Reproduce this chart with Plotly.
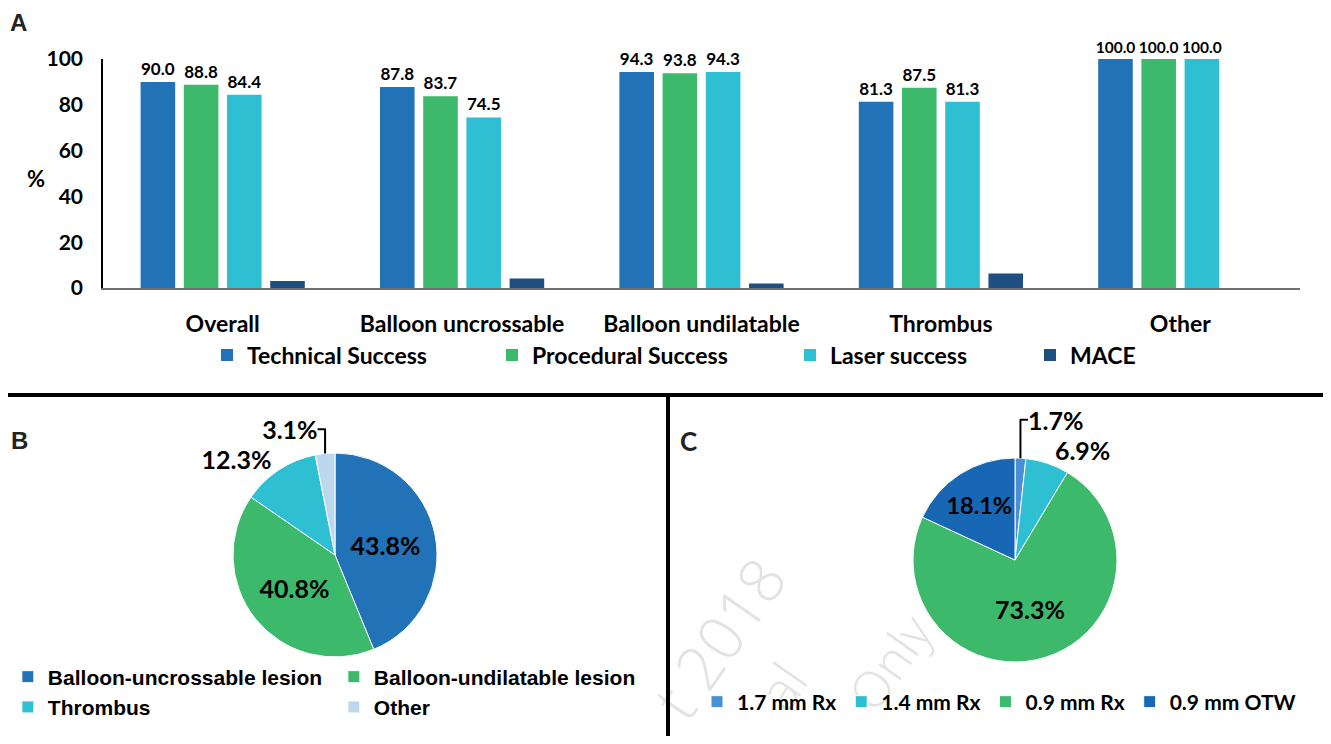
import plotly.graph_objects as go

# ---------------- data ----------------
categories = ["Overall", "Balloon uncrossable", "Balloon undilatable", "Thrombus", "Other"]
technical_success = [90.0, 87.8, 94.3, 81.3, 100.0]
procedural_success = [88.8, 83.7, 93.8, 87.5, 100.0]
laser_success = [84.4, 74.5, 94.3, 81.3, 100.0]
mace = [3.1, 4.1, 2.0, 6.3, 0.0]
y_ticks = [0, 20, 40, 60, 80, 100]

lesion_labels = ["Balloon-uncrossable lesion", "Balloon-undilatable lesion", "Thrombus", "Other"]
lesion_pct = [43.8, 40.8, 12.3, 3.1]

catheter_labels = ["1.7 mm Rx", "1.4 mm Rx", "0.9 mm Rx", "0.9 mm OTW"]
catheter_pct = [1.7, 6.9, 73.3, 18.1]

# ---------------- styling ----------------
PAGE_W, PAGE_H, BODY = 1331, 744, 8     # browser body margin of 8px
W, H = PAGE_W - 2 * BODY, PAGE_H - 2 * BODY
CAL = "Lato, Carlito, Calibri, sans-serif"
ARI = "Liberation Sans, Arial, sans-serif"
C_TECH, C_PROC, C_LASER, C_MACE = "#2272b8", "#3cb96b", "#2fbfd2", "#1f4e80"


def fx(px):
    """page pixel x -> paper fraction"""
    return (px - BODY) / W


def fy(py):
    """page pixel y (from top) -> paper fraction"""
    return 1 - (py - BODY) / H


fig = go.Figure()

series = [
    ("Technical Success", technical_success, C_TECH, True, "legend"),
    ("Procedural Success", procedural_success, C_PROC, True, "legend2"),
    ("Laser success", laser_success, C_LASER, True, "legend3"),
    ("MACE", mace, C_MACE, False, "legend4"),
]
for name, vals, color, labelled, lg in series:
    fig.add_trace(go.Bar(
        x=categories, y=vals, name=name,
        marker=dict(color=color, line=dict(width=0)),
        text=[f"{v:.1f}" for v in vals] if labelled else None,
        textposition="outside", constraintext="none", cliponaxis=False,
        textfont=dict(family=CAL, size=[15.5 if v >= 100 else 17 for v in vals],
                      color="black", weight="bold"),
        legend=lg,
    ))

PIE_R = 102
# Pie B
fig.add_trace(go.Pie(
    labels=lesion_labels, values=lesion_pct, sort=False, direction="clockwise", rotation=0,
    marker=dict(colors=[C_TECH, C_PROC, C_LASER, "#bcd7ee"], line=dict(color="white", width=1)),
    texttemplate="%{value:.1f}%", textposition=["inside", "inside", "outside", "outside"],
    insidetextorientation="horizontal",
    textfont=dict(family=CAL, size=25, color="black", weight="bold"),
    domain=dict(x=[fx(335 - PIE_R), fx(335 + PIE_R)], y=[fy(555 + PIE_R), fy(555 - PIE_R)]),
    legend="legend5",
))

# Pie C
fig.add_trace(go.Pie(
    labels=catheter_labels, values=catheter_pct, sort=False, direction="clockwise", rotation=0,
    marker=dict(colors=["#4a8fd4", C_LASER, C_PROC, "#1767b5"], line=dict(color="white", width=1)),
    texttemplate="%{value:.1f}%", textposition=["outside", "outside", "inside", "inside"],
    insidetextorientation="horizontal",
    textfont=dict(family=CAL, size=25, color="black", weight="bold"),
    domain=dict(x=[fx(1015 - PIE_R), fx(1015 + PIE_R)], y=[fy(560 + PIE_R), fy(560 - PIE_R)]),
    legend="legend6",
))

legend_common = dict(orientation="h", xanchor="left", yanchor="middle", bgcolor="rgba(0,0,0,0)",
                     itemclick=False, itemdoubleclick=False)
bar_legends = {}
for lg, xm in zip(["legend", "legend2", "legend3", "legend4"], [228, 513, 811, 1051]):
    bar_legends[lg] = dict(legend_common, x=fx(xm - 21), y=fy(355),
                           font=dict(family=CAL, size=23, color="black", weight="bold"))

fig.update_layout(
    width=W, height=H,
    margin=dict(l=0, r=0, t=0, b=0, autoexpand=False),
    paper_bgcolor="white", plot_bgcolor="white",
    barmode="group", bargap=0.278, bargroupgap=0.2,
    xaxis=dict(domain=[fx(103), fx(1300)], range=[-0.5, 4.5], showline=True, linecolor="#6f6f6f",
               linewidth=2, ticks="", showgrid=False, zeroline=False, ticklabelstandoff=14,
               tickfont=dict(family=CAL, size=23, color="black", weight="bold"), fixedrange=True),
    yaxis=dict(domain=[fy(288), fy(59)], range=[0, 100], tickvals=y_ticks, showline=True,
               linecolor="black", linewidth=1.5, ticks="", showgrid=False, zeroline=False,
               ticklabelstandoff=14,
               tickfont=dict(family=CAL, size=21, color="black", weight="bold"), fixedrange=True),
    showlegend=True,
    legend5=dict(legend_common, x=-0.0001, y=fy(692), entrywidth=281, entrywidthmode="pixels",
                 font=dict(family=ARI, size=21, color="black", weight="bold")),
    legend6=dict(legend_common, x=fx(697), y=fy(702),
                 font=dict(family=CAL, size=21, color="black", weight="bold")),
    **bar_legends,
)

# separators between panels
fig.add_shape(type="line", xref="paper", yref="paper", x0=fx(0), x1=fx(PAGE_W), y0=fy(395), y1=fy(395),
              line=dict(color="black", width=4))
fig.add_shape(type="line", xref="paper", yref="paper", x0=fx(668), x1=fx(668), y0=fy(395), y1=fy(PAGE_H),
              line=dict(color="black", width=4))

annos = [
    dict(text="A", x=fx(8), y=fy(22), font=dict(family=ARI, size=24, color="#222", weight="bold")),
    dict(text="B", x=fx(9), y=fy(440), font=dict(family=ARI, size=24, color="#222", weight="bold")),
    dict(text="C", x=fx(678), y=fy(441), font=dict(family=CAL, size=26, color="#222", weight="bold")),
    dict(text="%", x=fx(25), y=fy(178), font=dict(family=CAL, size=22, color="black", weight="bold")),
]
for a in annos:
    fig.add_annotation(xref="paper", yref="paper", xanchor="left", yanchor="middle",
                       showarrow=False, **a)

# faint watermark fragments, drawn beneath everything
for txt, cx, cy, sz in [("t 2018", 722, 640, 62), ("al", 785, 688, 54), ("Only", 892, 664, 50)]:
    fig.add_shape(type="rect", xref="paper", yref="paper", layer="below",
                  x0=fx(cx - 4), x1=fx(cx + 4), y0=fy(cy + 4), y1=fy(cy - 4),
                  line=dict(width=0), fillcolor="rgba(0,0,0,0)",
                  label=dict(text=txt, textangle=-55, textposition="middle center",
                             font=dict(family="Open Sans, Lato, sans-serif", size=sz,
                                       color="#e3e3e3", weight=300)))

fig.write_html("out.html")
